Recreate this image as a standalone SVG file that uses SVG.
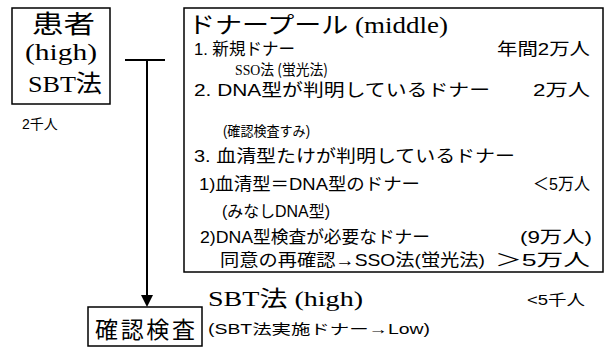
<svg xmlns="http://www.w3.org/2000/svg" width="609" height="358" viewBox="0 0 609 358">
<style>
.box{fill:#fff;stroke:#000;stroke-width:1.5}
.g{font-family:'Liberation Sans','Noto Sans CJK JP',sans-serif;fill:#000}
.sf{font-family:'Liberation Serif','DejaVu Serif','Noto Sans CJK JP',serif;fill:#000}
.cj{font-family:'Noto Sans CJK JP',sans-serif}
.ln{stroke:#000;stroke-width:2;fill:none}
</style>
<rect width="609" height="358" fill="#fff"/>
<g id="connectors">
<line class="ln" x1="125" y1="60" x2="165" y2="60"/>
<line class="ln" x1="147" y1="60" x2="147" y2="296"/>
<path d="M141,295 L153,295 L147,307 z" fill="#000"/>
</g>
<g id="patient">
<rect class="box" x="12" y="8" width="98" height="96"/>
<text class="g" x="32" y="33" font-size="25" textLength="63" lengthAdjust="spacingAndGlyphs">患者</text>
<text class="sf" x="25" y="60" font-size="24" textLength="72" lengthAdjust="spacingAndGlyphs">(high)</text>
<text class="sf" x="28" y="92" font-size="24" textLength="74" lengthAdjust="spacingAndGlyphs">SBT<tspan class="cj">法</tspan></text>
<text class="g" x="22" y="129" font-size="14">2千人</text>
</g>
<g id="donorpool">
<rect class="box" x="184" y="8" width="419" height="264"/>
<text class="sf" x="188" y="33" font-size="23" textLength="260" lengthAdjust="spacingAndGlyphs"><tspan class="cj">ドナープール</tspan> (middle)</text>
<text class="g" x="194" y="55" font-size="17" textLength="101" lengthAdjust="spacingAndGlyphs">1. 新規ドナー</text>
<text class="g" x="497" y="55" font-size="17" textLength="93" lengthAdjust="spacingAndGlyphs">年間2万人</text>
<text class="sf" x="235" y="75" font-size="15" textLength="93" lengthAdjust="spacingAndGlyphs">SSO<tspan class="cj">法 (蛍光法)</tspan></text>
<text class="g" x="194" y="96" font-size="17" textLength="296" lengthAdjust="spacingAndGlyphs">2. DNA型が判明しているドナー</text>
<text class="g" x="533" y="96" font-size="17" textLength="57" lengthAdjust="spacingAndGlyphs">2万人</text>
<text class="g" x="223" y="136" font-size="14" textLength="87" lengthAdjust="spacingAndGlyphs">(確認検査すみ)</text>
<text class="g" x="194" y="162" font-size="17" textLength="321" lengthAdjust="spacingAndGlyphs">3. 血清型たけが判明しているドナー</text>
<text class="g" x="199" y="190" font-size="17" textLength="221" lengthAdjust="spacingAndGlyphs">1)血清型＝DNA型のドナー</text>
<text class="g" x="533" y="190" font-size="17" textLength="57" lengthAdjust="spacingAndGlyphs">＜5万人</text>
<text class="g" x="222" y="217" font-size="16" textLength="108" lengthAdjust="spacingAndGlyphs">(みなしDNA型)</text>
<text class="g" x="200" y="243" font-size="17" textLength="230" lengthAdjust="spacingAndGlyphs">2)DNA型検査が必要なドナー</text>
<text class="g" x="520" y="243" font-size="17" textLength="72" lengthAdjust="spacingAndGlyphs">(9万人)</text>
<text class="g" x="220" y="266" font-size="17" textLength="265" lengthAdjust="spacingAndGlyphs">同意の再確認→SSO法(蛍光法)</text>
<text class="g" x="495" y="266" font-size="17" textLength="95" lengthAdjust="spacingAndGlyphs">＞5万人</text>
</g>
<g id="confirm">
<rect class="box" x="88" y="307" width="114" height="39"/>
<text class="g" x="95" y="338" font-size="23" textLength="100" lengthAdjust="spacing">確認検査</text>
</g>
<g id="sbt">
<text class="sf" x="208" y="306" font-size="22" textLength="155" lengthAdjust="spacingAndGlyphs">SBT<tspan class="cj">法</tspan> (high)</text>
<text class="g" x="527" y="305" font-size="15" textLength="58" lengthAdjust="spacingAndGlyphs">&lt;5千人</text>
<text class="g" x="208" y="334" font-size="14" textLength="222" lengthAdjust="spacingAndGlyphs">(SBT法実施ドナー→Low)</text>
</g>
</svg>
